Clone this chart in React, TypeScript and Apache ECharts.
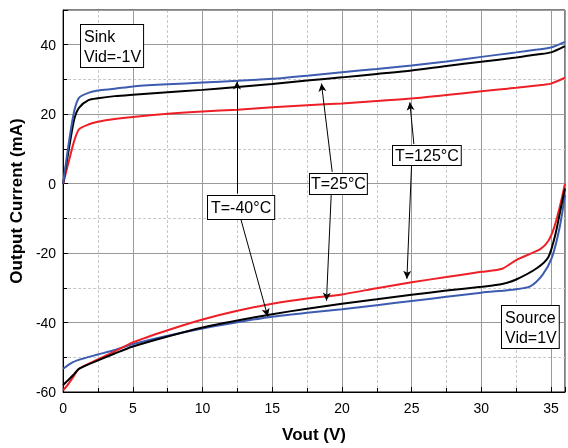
import React, { useEffect, useRef } from "react";
import * as echarts from "echarts";

// Sink (positive current), Vid = -1 V
const sinkM40: [number, number][] = [
  [0, 0], [0.45, 12.9], [0.8, 21], [1.15, 24.8], [1.85, 26.2], [2.5, 26.8], [3.7, 27.3],
  [5, 28], [7.5, 28.6], [10, 29.1], [12.5, 29.6], [15, 30.2], [17.5, 31.1], [20, 32.1],
  [22.5, 33], [25, 34], [27.5, 35.2], [30, 36.5], [32.5, 37.8], [34, 38.6], [35, 39.2], [36, 40.8],
];
const sink25: [number, number][] = [
  [0, 0], [0.45, 10.9], [0.8, 18.6], [1.15, 21.9], [1.85, 24.1], [2.5, 24.6], [3.7, 25.2],
  [5, 25.6], [7.5, 26.3], [10, 27], [12.5, 27.8], [15, 28.7], [17.5, 29.7], [20, 30.6],
  [22.5, 31.6], [25, 32.6], [27.5, 33.9], [30, 35.1], [32.5, 36.3], [34, 37.2], [35, 37.8], [36, 39.6],
];
const sink125: [number, number][] = [
  [0, 0], [0.45, 7.1], [0.8, 12.4], [1.15, 15.7], [1.85, 17.1], [2.5, 17.8], [3.7, 18.6],
  [5, 19.2], [7.5, 20.1], [10, 20.8], [12.5, 21.3], [15, 22], [17.5, 22.6], [20, 23.1],
  [22.5, 23.8], [25, 24.5], [27.5, 25.5], [30, 26.6], [32.5, 27.6], [34.5, 28.5], [35, 28.8], [36, 30.5],
];

// Source (negative current), Vid = 1 V
const srcM40: [number, number][] = [
  [0, -53.3], [0.7, -51.4], [1.5, -50.3], [2.5, -49.2], [3.7, -47.9], [5, -46.2], [7.5, -43.8],
  [10, -41.7], [12.5, -39.9], [15, -38.3], [17.5, -37.2], [20, -36.2], [22.5, -35], [25, -33.8],
  [27.5, -32.6], [30, -31.4], [32.5, -30.4], [33.5, -29.6], [34.4, -26.2], [35.05, -21.4],
  [35.6, -12.9], [36, -3.3],
];
const src25: [number, number][] = [
  [0, -58], [0.3, -56.8], [0.8, -54.8], [1.15, -53.3], [2.5, -50.9], [3.7, -48.9], [5, -46.9],
  [7.5, -44], [10, -41.4], [12.5, -39.4], [15, -37.6], [17.5, -36], [20, -34.6], [22.5, -33.3],
  [25, -32], [27.5, -30.8], [30, -29.7], [31.5, -28.9], [32.5, -27.6], [34, -24.3], [34.8, -21.2],
  [35.3, -14.8], [35.7, -7.1], [36, -1.4],
];
const src125: [number, number][] = [
  [0, -59.5], [0.3, -58.1], [0.8, -55.2], [1.15, -53.3], [2.5, -50.6], [3.7, -48.3], [5, -45.7],
  [7.5, -42.2], [10, -39.1], [12.5, -36.6], [15, -34.6], [17.5, -33.1], [20, -31.9], [22.5, -30.1],
  [25, -28.4], [27.5, -26.9], [30, -25.4], [31.5, -24.5], [32.5, -22], [33.5, -20.2], [34.25, -18.8],
  [34.8, -16.5], [35.2, -12.9], [35.6, -7.1], [36, 0],
];

// Annotation arrows: [from, to] in data coordinates
const arrows: [[number, number], [number, number]][] = [
  [[12.47, -2.9], [12.47, 29.4]],
  [[12.69, -9.4], [14.68, -38.3]],
  [[19.3, 3.4], [18.53, 28.8]],
  [[19.24, -2.3], [18.89, -33.7]],
  [[25.16, 11.4], [24.87, 23.4]],
  [[25.0, 6.0], [24.66, -27.4]],
];

const BLUE = "#3d5cb0";
const RED = "#ee1f26";
const BLACK = "#000000";
const FONT = '"Liberation Sans", Arial, sans-serif';

export default function App() {
  const ref = useRef<HTMLDivElement>(null);
  useEffect(() => {
    if (!ref.current) return;
    const chart = echarts.init(ref.current, null, { renderer: "svg" });
    const line = (name: string, data: [number, number][], color: string, extra: any = {}) => ({
      name,
      type: "line",
      data,
      xAxisIndex: 0,
      yAxisIndex: 0,
      showSymbol: false,
      symbol: "none",
      smooth: 0.25,
      lineStyle: { color, width: 2 },
      itemStyle: { color },
      z: 3,
      ...extra,
    });
    const boxStyle = (text: string, lh: number, pad: number[]) => ({
      text,
      font: `16px ${FONT}`,
      fill: "#000",
      lineHeight: lh,
      backgroundColor: "#fff",
      borderColor: "#000",
      borderWidth: 1,
      padding: pad,
    });
    chart.setOption({
      animation: false,
      textStyle: { fontFamily: FONT },
      grid: { left: 62, right: 1, top: 10, bottom: 53, show: true, borderColor: "#000", borderWidth: 1 },
      xAxis: [
        {
          type: "value",
          min: 0,
          max: 36,
          interval: 5,
          position: "bottom",
          name: "Vout (V)",
          nameLocation: "middle",
          nameGap: 34,
          nameTextStyle: { fontSize: 17, fontWeight: "bold", color: "#000", fontFamily: FONT },
          axisLine: { onZero: false, lineStyle: { color: "#000" } },
          axisTick: { inside: true, length: 5, lineStyle: { color: "#000" } },
          axisLabel: {
            fontSize: 14,
            color: "#000",
            margin: 9,
            formatter: (v: number) => (v === 36 ? "" : String(v)),
          },
          splitLine: { show: true, lineStyle: { color: "#9a9a9a", width: 1, type: "solid" } },
          z: 2,
        },
        {
          type: "value",
          min: 0,
          max: 36,
          interval: 2.5,
          position: "bottom",
          axisLine: { show: false, onZero: false },
          axisTick: { show: true, inside: true, length: 4, lineStyle: { color: "#000" } },
          axisLabel: { show: false },
          splitLine: { show: true, lineStyle: { color: "#c8c8c8", width: 1, type: [3, 2] } },
          z: 1,
        },
      ],
      yAxis: [
        {
          type: "value",
          min: -60,
          max: 50,
          interval: 20,
          position: "left",
          name: "Output Current (mA)",
          nameLocation: "middle",
          nameGap: 38,
          nameTextStyle: { fontSize: 17, fontWeight: "bold", color: "#000", fontFamily: FONT },
          axisLine: { onZero: false, lineStyle: { color: "#000" } },
          axisTick: { inside: true, length: 5, lineStyle: { color: "#000" } },
          axisLabel: {
            fontSize: 14,
            color: "#000",
            margin: 7,
            formatter: (v: number) => (v === 50 ? "" : String(v)),
          },
          splitLine: { show: true, lineStyle: { color: "#9a9a9a", width: 1, type: "solid" } },
          z: 2,
        },
        {
          type: "value",
          min: -60,
          max: 50,
          interval: 10,
          position: "left",
          axisLine: { show: false, onZero: false },
          axisTick: { show: true, inside: true, length: 4, lineStyle: { color: "#000" } },
          axisLabel: { show: false },
          splitLine: { show: true, lineStyle: { color: "#c8c8c8", width: 1, type: [3, 2] } },
          z: 1,
        },
      ],
      series: [
        line("Sink T=125°C", sink125, RED),
        line("Sink T=25°C", sink25, BLACK),
        line("Sink T=-40°C", sinkM40, BLUE),
        line("Source T=-40°C", srcM40, BLUE),
        line("Source T=125°C", src125, RED),
        line("Source T=25°C", src25, BLACK, {
          markLine: {
            silent: true,
            symbol: ["none", "arrow"],
            symbolSize: [6, 8],
            label: { show: false },
            lineStyle: { color: "#000", width: 1, type: "solid" },
            emphasis: { disabled: true },
            data: arrows.map(([a, b]) => [{ coord: a }, { coord: b }]),
          },
        }),
      ],
      graphic: [
        { type: "text", left: 80, top: 24, z: 100, style: boxStyle("Sink\nVid=-1V", 20, [1, 2, 1, 3]) },
        { type: "text", left: 207, top: 195, z: 100, style: boxStyle("T=-40°C", 21, [1, 3, 1, 3]) },
        { type: "text", left: 309, top: 173, z: 100, style: boxStyle("T=25°C", 19, [0, 1, 1, 1]) },
        { type: "text", left: 392, top: 145, z: 100, style: boxStyle("T=125°C", 18, [0, 2, 1, 2]) },
        { type: "text", left: 501, top: 305, z: 100, style: boxStyle("Source\nVid=1V", 20, [1, 2, 1, 3]) },
      ],
    });
    return () => chart.dispose();
  }, []);
  return <div ref={ref} style={{ position: "fixed", left: 0, top: 0, width: 568, height: 448 }} />;
}
